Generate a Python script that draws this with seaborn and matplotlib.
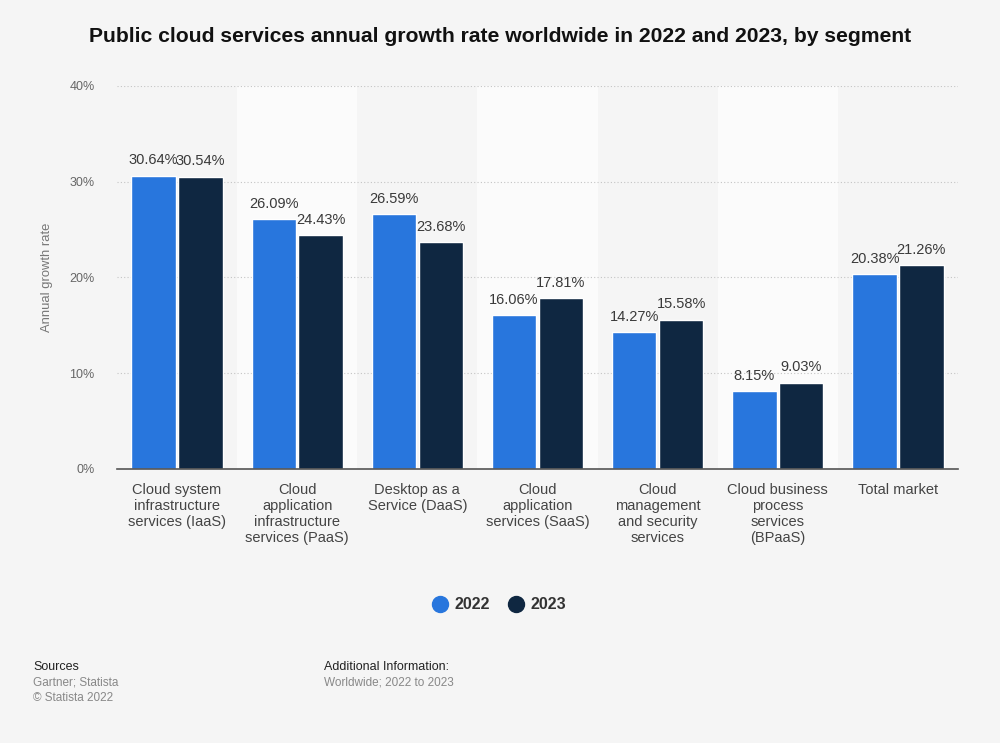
import pandas as pd
import matplotlib.pyplot as plt
import seaborn as sns
from matplotlib.lines import Line2D

# data
segments = [
    "Cloud system\ninfrastructure\nservices (IaaS)",
    "Cloud\napplication\ninfrastructure\nservices (PaaS)",
    "Desktop as a\nService (DaaS)",
    "Cloud\napplication\nservices (SaaS)",
    "Cloud\nmanagement\nand security\nservices",
    "Cloud business\nprocess\nservices\n(BPaaS)",
    "Total market",
]
growth_2022 = [30.64, 26.09, 26.59, 16.06, 14.27, 8.15, 20.38]
growth_2023 = [30.54, 24.43, 23.68, 17.81, 15.58, 9.03, 21.26]
years = ["2022", "2023"]
y_ticks = [0, 10, 20, 30, 40]

df = pd.DataFrame({
    "segment": segments * 2,
    "year": [years[0]] * len(segments) + [years[1]] * len(segments),
    "rate": growth_2022 + growth_2023,
})

blue = "#2876dd"
navy = "#0f2741"
bg = "#f5f5f5"

sns.set_theme(style="white")
plt.rcParams["font.family"] = ["Liberation Sans", "DejaVu Sans"]

fig = plt.figure(figsize=(10, 7.43), dpi=100, facecolor=bg)
ax = fig.add_axes([0.117, 0.3688, 0.841, 0.5155])
ax.set_facecolor(bg)

# lighter bands behind every second category
for i in range(len(segments)):
    if i % 2 == 1:
        ax.axvspan(i - 0.5, i + 0.5, color="#fbfbfb", zorder=0, lw=0)

sns.barplot(data=df, x="segment", y="rate", hue="year", palette=[blue, navy],
            saturation=1, width=0.78, gap=0.05, ax=ax, legend=False, zorder=3)

for cont in ax.containers:
    ax.bar_label(cont, labels=[f"{v:.2f}%" for v in cont.datavalues],
                 padding=6, fontsize=10.5, color="#3a3a3a")

ax.set_xlim(-0.5, len(segments) - 0.5)
ax.set_ylim(0, 40)
ax.set_yticks(y_ticks)
ax.set_yticklabels([f"{t}%" for t in y_ticks], fontsize=9, color="#666666")
ax.tick_params(axis="y", length=0, pad=16)
ax.tick_params(axis="x", length=0, pad=10, labelsize=10.5, labelcolor="#444444")
ax.set_xticks(range(len(segments)))
ax.set_xticklabels(segments, linespacing=1.2, va="top")
ax.set_xlabel("")
ax.set_ylabel("Annual growth rate", fontsize=9.4, color="#777777")
ax.yaxis.set_label_coords(-0.076, 0.5)

for t in y_ticks[1:]:
    ax.axhline(t, color="#c4c4c4", lw=0.8, ls=(0, (1, 2)), zorder=1)
for s in ["top", "right", "left"]:
    ax.spines[s].set_visible(False)
ax.spines["bottom"].set_color("#555555")
ax.spines["bottom"].set_linewidth(1.2)
ax.spines["bottom"].set_zorder(4)

fig.text(0.5, 0.951, "Public cloud services annual growth rate worldwide in 2022 and 2023, by segment",
         ha="center", va="center", fontsize=15.2, fontweight="bold", color="#111111")

handles = [Line2D([], [], marker="o", ls="", markersize=11.5, color=c) for c in (blue, navy)]
fig.legend(handles, years, loc="center", bbox_to_anchor=(0.499, 0.186), ncol=2,
           frameon=False, prop={"weight": "bold", "size": 11.5},
           handlelength=1.0, handletextpad=0.4, columnspacing=1.1, labelcolor="#333333")

fig.text(0.033, 0.102, "Sources", fontsize=9, color="#222222", va="center")
fig.text(0.033, 0.081, "Gartner; Statista", fontsize=8.5, color="#888888", va="center")
fig.text(0.033, 0.061, "© Statista 2022", fontsize=8.5, color="#888888", va="center")
fig.text(0.324, 0.102, "Additional Information:", fontsize=9, color="#222222", va="center")
fig.text(0.324, 0.081, "Worldwide; 2022 to 2023", fontsize=8.5, color="#888888", va="center")

fig.savefig("out.png", dpi=100, facecolor=bg)
